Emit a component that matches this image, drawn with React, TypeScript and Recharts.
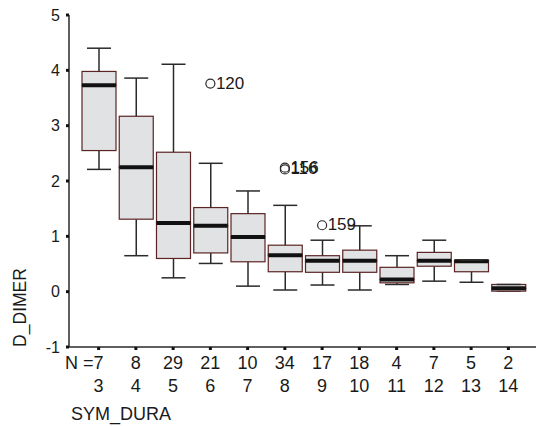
import {Bar, ComposedChart, Scatter, XAxis, YAxis} from "recharts";

const categories = [3, 4, 5, 6, 7, 8, 9, 10, 11, 12, 13, 14];
const counts = [7, 8, 29, 21, 10, 34, 17, 18, 4, 7, 5, 2];

const mins = [2.21, 0.65, 0.25, 0.51, 0.10, 0.03, 0.12, 0.03, 0.13, 0.19, 0.17, 0.01];
const q1s = [2.55, 1.31, 0.60, 0.70, 0.54, 0.36, 0.35, 0.35, 0.16, 0.46, 0.36, 0.01];
const medians = [3.73, 2.25, 1.24, 1.19, 0.99, 0.66, 0.56, 0.56, 0.22, 0.56, 0.55, 0.06];
const q3s = [3.98, 3.17, 2.52, 1.52, 1.41, 0.84, 0.65, 0.75, 0.44, 0.71, 0.57, 0.13];
const maxs = [4.40, 3.86, 4.11, 2.32, 1.82, 1.56, 0.93, 1.19, 0.65, 0.93, 0.57, 0.13];

const outlierA = [null, null, null, 3.76, null, 2.24, 1.20, null, null, null, null, null];
const outlierALabels = ["", "", "", "120", "", "156", "159", "", "", "", "", ""];
const outlierB = [null, null, null, null, null, 2.21, null, null, null, null, null, null];
const outlierBLabels = ["", "", "", "", "", "116", "", "", "", "", "", ""];

const yTicks = [-1, 0, 1, 2, 3, 4, 5];

const data = categories.map((cat, i) => ({
    cat,
    base: mins[i],
    lowWhisker: q1s[i] - mins[i],
    lowBox: medians[i] - q1s[i],
    highBox: q3s[i] - medians[i],
    highWhisker: maxs[i] - q3s[i],
    outA: outlierA[i],
    outALabel: outlierALabels[i],
    outB: outlierB[i],
    outBLabel: outlierBLabels[i],
}));

const FONT = '"Liberation Sans", Arial, sans-serif';
const BOX_FILL = "#e1e2e4";
const BOX_EDGE = "#5b2424";
const INK = "#2a2a2a";
const CAP = 12;

const Empty = () => <g/>;

const LowWhisker = (p: any) => {
    const cx = p.x + p.width / 2;
    const bottom = p.y + p.height;
    return (
        <g>
            <line x1={cx} x2={cx} y1={p.y} y2={bottom} stroke={INK} strokeWidth={1.5}/>
            <line x1={cx - CAP} x2={cx + CAP} y1={bottom} y2={bottom} stroke={INK} strokeWidth={1.5}/>
        </g>
    );
};

const HighWhisker = (p: any) => {
    const cx = p.x + p.width / 2;
    return (
        <g>
            <line x1={cx} x2={cx} y1={p.y} y2={p.y + p.height} stroke={INK} strokeWidth={1.5}/>
            <line x1={cx - CAP} x2={cx + CAP} y1={p.y} y2={p.y} stroke={INK} strokeWidth={1.5}/>
        </g>
    );
};

const LowBox = (p: any) => (
    <rect x={p.x} y={p.y} width={p.width} height={p.height} fill={BOX_FILL} stroke={BOX_EDGE} strokeWidth={1.2}/>
);

// upper half of the box, median drawn on its lower edge
const HighBox = (p: any) => (
    <g>
        <rect x={p.x} y={p.y} width={p.width} height={p.height} fill={BOX_FILL} stroke={BOX_EDGE} strokeWidth={1.2}/>
        <line x1={p.x} x2={p.x + p.width} y1={p.y + p.height} y2={p.y + p.height} stroke="#111" strokeWidth={4}/>
    </g>
);

const outlierShape = (valueKey: string, labelKey: string) => (p: any) => {
    if (p.payload == null || p.payload[valueKey] == null) return <g/>;
    return (
        <g>
            <circle cx={p.cx} cy={p.cy} r={4.5} fill="none" stroke={INK} strokeWidth={1.2}/>
            <text x={p.cx + 5.5} y={p.cy + 5} fontSize={17} fontFamily={FONT} fill="#1a1a1a">
                {p.payload[labelKey]}
            </text>
        </g>
    );
};

const CountTick = (p: any) => {
    const i = p.index ?? p.payload.index;
    return (
        <g fontFamily={FONT} fontSize={18} fill="#1a1a1a">
            {i === 0 && <text x={p.x - 5} y={p.y + 17} textAnchor="end">N =</text>}
            <text x={p.x} y={p.y + 17} textAnchor="middle">{counts[i]}</text>
            <text x={p.x} y={p.y + 39.5} textAnchor="middle">{p.payload.value}</text>
        </g>
    );
};

const App = () => {
    return (
        <div style={{position: "absolute", left: 0, top: 0, background: "#fff"}}>
            <ComposedChart
                width={536}
                height={426}
                data={data}
                margin={{top: 15, right: 0, bottom: 0, left: 0}}
            >
                <XAxis
                    dataKey="cat"
                    type="category"
                    interval={0}
                    height={79}
                    padding={{left: 11, right: 9}}
                    tickSize={3}
                    tickMargin={2}
                    tickLine={{stroke: "#111", strokeWidth: 3}}
                    axisLine={{stroke: INK, strokeWidth: 1.5}}
                    tick={<CountTick/>}
                />
                <YAxis
                    type="number"
                    domain={[-1, 5]}
                    ticks={yTicks}
                    width={69}
                    tickSize={3}
                    tickMargin={6}
                    tickLine={{stroke: "#111", strokeWidth: 3}}
                    axisLine={{stroke: INK, strokeWidth: 1.5}}
                    tick={{fontSize: 16, fill: "#1a1a1a", fontFamily: FONT}}
                />
                <Bar dataKey="base" stackId="box" barSize={34} shape={<Empty/>} isAnimationActive={false}/>
                <Bar dataKey="lowWhisker" stackId="box" barSize={34} shape={LowWhisker} isAnimationActive={false}/>
                <Bar dataKey="lowBox" stackId="box" barSize={34} shape={LowBox} isAnimationActive={false}/>
                <Bar dataKey="highBox" stackId="box" barSize={34} shape={HighBox} isAnimationActive={false}/>
                <Bar dataKey="highWhisker" stackId="box" barSize={34} shape={HighWhisker} isAnimationActive={false}/>
                <Scatter dataKey="outA" shape={outlierShape("outA", "outALabel")} isAnimationActive={false}/>
                <Scatter dataKey="outB" shape={outlierShape("outB", "outBLabel")} isAnimationActive={false}/>
                <text x={19.5} y={307.5} transform="rotate(-90, 19.5, 307.5)" textAnchor="middle" dy="0.36em"
                      fontSize={17.5} fontFamily={FONT} fill="#1a1a1a">D_DIMER</text>
                <text x={71} y={420} fontSize={18} fontFamily={FONT} fill="#1a1a1a">SYM_DURA</text>
            </ComposedChart>
        </div>
    );
};

export default App;
